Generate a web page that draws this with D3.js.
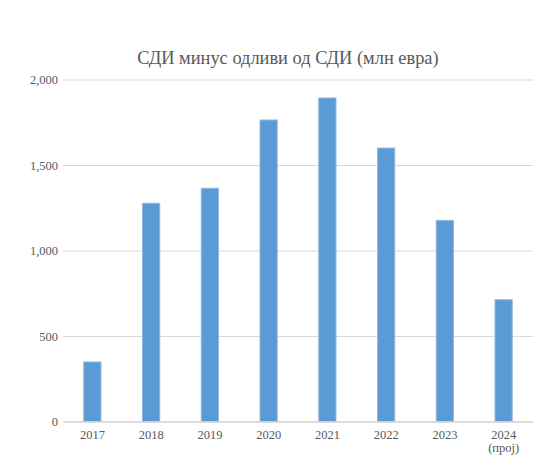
<!DOCTYPE html>
<html><head><meta charset="utf-8">
<script src="https://cdn.jsdelivr.net/npm/d3@7"></script>
<style>body{margin:0;background:#fff}svg{display:block}</style>
</head><body>
<svg id="c" width="547" height="474"></svg>
<script>
const categories = ["2017","2018","2019","2020","2021","2022","2023","2024"];
const categorySub = ["","","","","","","","(прој)"];
const values = [348, 1276, 1364, 1763, 1892, 1599, 1176, 712];
const yTicks = [0, 500, 1000, 1500, 2000];
const title = "СДИ минус одливи од СДИ (млн евра)";

const FF = '"Liberation Serif"';
const svg = d3.select("#c");
const m = {left:63, right:533, top:79.5, bottom:421.5};
const x = d3.scaleBand().domain(categories).range([m.left, m.right]).paddingInner(0.69).paddingOuter(0.345);
const y = d3.scaleLinear().domain([0,2000]).range([m.bottom, m.top]);

svg.append("text").attr("x", 288).attr("y", 64).attr("text-anchor","middle")
  .style("font-family",FF).style("font-size","18.4px").attr("fill","#595959").text(title);

const yAxis = d3.axisLeft(y).tickValues(yTicks).tickSize(-(m.right-m.left)).tickPadding(5)
  .tickFormat(d3.format(","));
const gy = svg.append("g").attr("transform",`translate(${m.left},0)`).call(yAxis);
gy.select(".domain").remove();
gy.selectAll(".tick line").attr("stroke","#D9D9D9").attr("stroke-width",1);
gy.selectAll(".tick text").style("font-family",FF).style("font-size","12.5px").attr("fill","#595959");

svg.append("g").selectAll("rect").data(values).join("rect")
  .attr("x",(d,i)=>x(categories[i])+0.5).attr("y",d=>y(d))
  .attr("width",x.bandwidth()-1).attr("height",d=>y(0)-y(d))
  .attr("fill","#5B9BD5").attr("stroke","#8DB8E2").attr("stroke-width",1);

const xAxis = d3.axisBottom(x).tickSize(0).tickPadding(9);
const gx = svg.append("g").attr("transform",`translate(0,${m.bottom})`).call(xAxis);
gx.select(".domain").attr("stroke","#D9D9D9").attr("stroke-width",1.5);
gx.selectAll(".tick text").style("font-family",FF).style("font-size","12.5px").attr("fill","#595959");
gx.selectAll(".tick").each(function(d,i){
  if(categorySub[i]) d3.select(this).append("text").attr("y",22).attr("dy","0.71em")
    .attr("text-anchor","middle").style("font-family",FF).style("font-size","12.5px").attr("fill","#595959")
    .text(categorySub[i]);
});
</script>
</body></html>
